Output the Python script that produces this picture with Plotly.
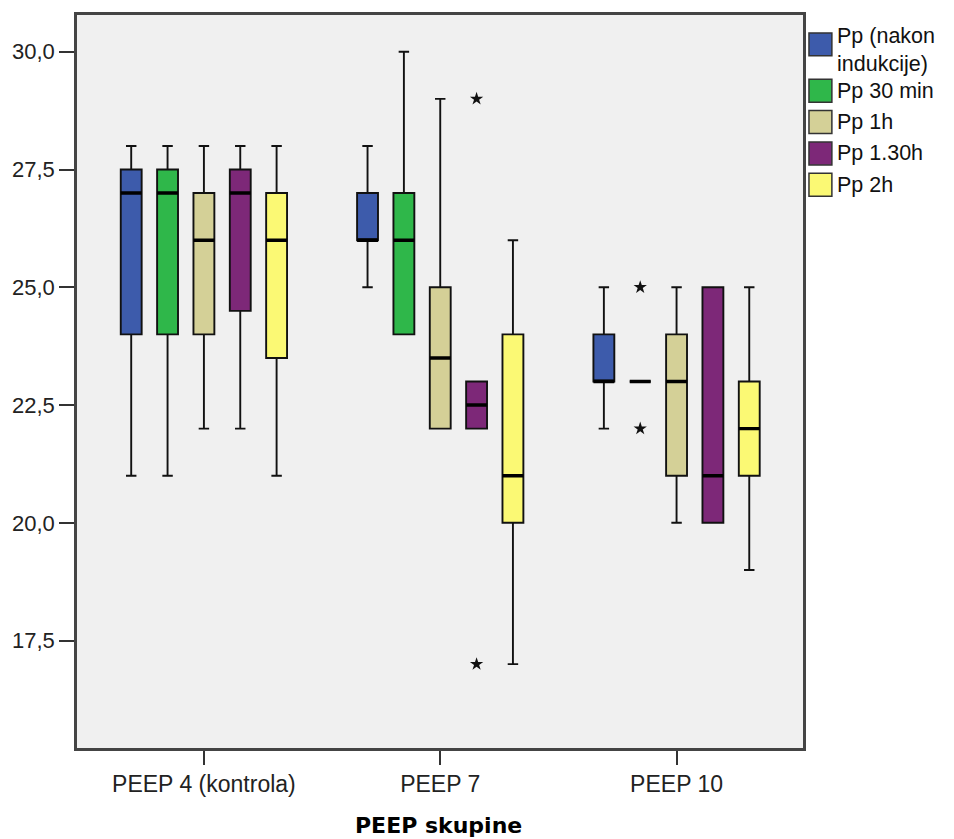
import plotly.graph_objects as go

groups = ["PEEP 4 (kontrola)", "PEEP 7", "PEEP 10"]
series = ["Pp (nakon indukcije)", "Pp 30 min", "Pp 1h", "Pp 1.30h", "Pp 2h"]
legend_text = ["Pp (nakon<br>indukcije)", "Pp 30 min", "Pp 1h", "Pp 1.30h", "Pp 2h"]
colors = ["#3d5bab", "#2fb74a", "#d4d097", "#7d2878", "#fbf974"]

# per series: values for [PEEP 4, PEEP 7, PEEP 10]
lower = [[21, 25, 22], [21, 24, 23], [22, 22, 20], [22, 22, 20], [21, 17, 19]]
q1 = [[24, 26, 23], [24, 24, 23], [24, 22, 21], [24.5, 22, 20], [23.5, 20, 21]]
median = [[27, 26, 23], [27, 26, 23], [26, 23.5, 23], [27, 22.5, 21], [26, 21, 22]]
q3 = [[27.5, 27, 24], [27.5, 27, 23], [27, 25, 24], [27.5, 23, 25], [27, 24, 23]]
upper = [[28, 28, 25], [28, 30, 23], [28, 29, 25], [28, 23, 25], [28, 26, 25]]

# extreme values: (series index, group index, value)
outlier_series = [3, 3, 1, 1]
outlier_group = [1, 1, 2, 2]
outlier_value = [29, 17, 25, 22]

y_ticks = [17.5, 20.0, 22.5, 25.0, 27.5, 30.0]
y_tick_text = ["17,5", "20,0", "22,5", "25,0", "27,5", "30,0"]

# ---- layout constants ----
BOXGAP = 0.231        # controls spacing of the grouped boxes
BOXGROUPGAP = 0.425   # controls box width within its slot
XRANGE = [-0.537, 2.535]
YRANGE = [15.22, 30.78]
PAGE_OFF = 8                      # default page margin of the html body
W, H = 954 - PAGE_OFF, 839 - PAGE_OFF
PL, PT, PR, PB = 74, 12, 803, 748  # plot area in page pixels


def px_x(px):
    return (px - PL) / (PR - PL)


def px_y(py):
    return (PB - py) / (PB - PT)


fig = go.Figure()
for i, name in enumerate(series):
    fig.add_trace(go.Box(
        name=name, x=groups, q1=q1[i], median=median[i], q3=q3[i],
        lowerfence=lower[i], upperfence=upper[i],
        fillcolor=colors[i], line=dict(color="#111111", width=1.9),
        whiskerwidth=0.5, offsetgroup=str(i), boxpoints=False,
        hoverinfo="skip", showlegend=False,
    ))
# thick median lines
for i, name in enumerate(series):
    fig.add_trace(go.Box(
        name=name, x=groups, q1=median[i], median=median[i], q3=median[i],
        lowerfence=median[i], upperfence=median[i],
        fillcolor="rgba(0,0,0,0)", line=dict(color="#000000", width=3.4),
        whiskerwidth=0, offsetgroup=str(i), showlegend=False, boxpoints=False,
        hoverinfo="skip",
    ))

# extreme values placed at the centre of their box slot (plotly: slot = (1 - boxgap) / n)
n = len(series)
slot = (1 - BOXGAP) / n
ox = [outlier_group[k] + (outlier_series[k] - (n - 1) / 2) * slot for k in range(len(outlier_value))]
fig.add_trace(go.Scatter(
    x=ox, y=outlier_value, mode="markers", xaxis="x2", yaxis="y",
    marker=dict(symbol="star", size=10, color="#111111"),
    showlegend=False, hoverinfo="skip",
))

# ---- hand-drawn legend (large SPSS-style swatches) ----
shapes = []
annotations = []
sw = 23
item_centers = [41.5] + [88 + 31.5 * k for k in range(n - 1)]
for i in range(n):
    cy = item_centers[i]
    shapes.append(dict(
        type="rect", xref="paper", yref="paper",
        x0=px_x(809), x1=px_x(809 + sw), y0=px_y(cy + sw / 2), y1=px_y(cy - sw / 2),
        fillcolor=colors[i], line=dict(color="#333333", width=1.5),
    ))
    multi = "<br>" in legend_text[i]
    annotations.append(dict(
        text=legend_text[i], xref="paper", yref="paper", x=px_x(835),
        y=px_y(cy + 6 if multi else cy), xanchor="left", yanchor="middle",
        align="left", showarrow=False,
        font=dict(family="Liberation Sans, Arial", size=21.5, color="#111111"),
    ))

annotations.append(dict(
    text="<b>PEEP skupine</b>", xref="paper", yref="paper",
    x=px_x(437), y=px_y(826), xanchor="center", yanchor="middle", showarrow=False,
    font=dict(family="DejaVu Sans", size=22, color="#000000"),
))

fig.update_layout(
    width=W, height=H,
    margin=dict(l=PL - PAGE_OFF, r=W - (PR - PAGE_OFF), t=PT - PAGE_OFF, b=H - (PB - PAGE_OFF)),
    paper_bgcolor="white", plot_bgcolor="#f0f0f0",
    boxmode="group", boxgroupgap=BOXGROUPGAP, boxgap=BOXGAP,
    xaxis=dict(
        type="category", range=XRANGE, showgrid=False, zeroline=False,
        showline=True, linecolor="#444444", linewidth=2.5, mirror=True,
        ticks="outside", ticklen=14, tickwidth=1.8, tickcolor="#333333",
        tickfont=dict(family="Liberation Sans, Arial", size=23, color="#222222"),
    ),
    xaxis2=dict(overlaying="x", range=XRANGE, visible=False, showgrid=False, zeroline=False),
    yaxis=dict(
        range=YRANGE, tickvals=y_ticks, ticktext=y_tick_text,
        showgrid=False, zeroline=False, showline=True, linecolor="#444444",
        linewidth=2.5, mirror=True, ticks="outside", ticklen=15, tickwidth=1.8,
        tickcolor="#333333",
        tickfont=dict(family="Liberation Sans, Arial", size=22, color="#222222"),
    ),
    shapes=shapes, annotations=annotations,
    showlegend=False,
)

fig.write_html("out.html")
